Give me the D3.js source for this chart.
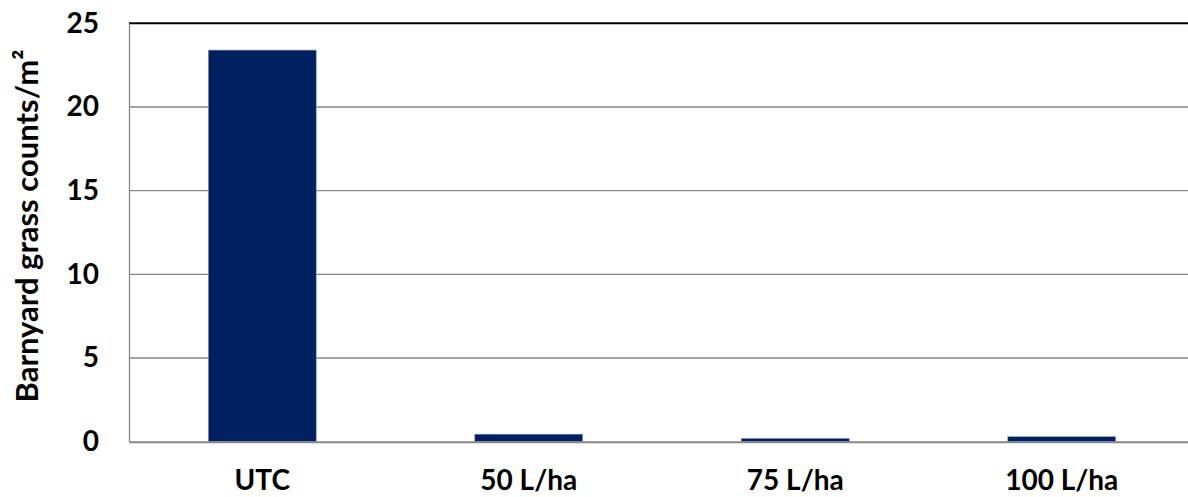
<!DOCTYPE html>
<html><head><meta charset="utf-8">
<script src="https://cdn.jsdelivr.net/npm/d3@7"></script>
<style>body{margin:0;background:#fff}svg{display:block}</style>
</head><body><div id="chart"></div>
<script>
const categories = ["UTC", "50 L/ha", "75 L/ha", "100 L/ha"];
const values = [23.4, 0.45, 0.2, 0.3];
const yTicks = [0, 5, 10, 15, 20, 25];
const yTitle = "Barnyard grass counts/m²";

const W = 1188, H = 497;
const m = {left: 129, top: 23.3, right: -7, bottom: 55.3};
const svg = d3.select("#chart").append("svg").attr("width", W).attr("height", H);
const font = "Lato, 'Open Sans', sans-serif";

const x = d3.scaleBand().domain(categories).range([m.left, W - m.right]).paddingInner(0.595).paddingOuter(0.2975);
const y = d3.scaleLinear().domain([0, 25]).range([H - m.bottom, m.top]);

// gridlines
svg.append("g").selectAll("line").data(yTicks.filter(d => d > 0 && d < 25)).join("line")
  .attr("x1", m.left).attr("x2", W - m.right)
  .attr("y1", d => y(d)).attr("y2", d => y(d))
  .attr("stroke", "#868686").attr("stroke-width", 1.3);
// top border
svg.append("line").attr("x1", m.left).attr("x2", W - m.right).attr("y1", y(25)).attr("y2", y(25))
  .attr("stroke", "#000").attr("stroke-width", 2);

// bars
svg.append("g").selectAll("rect").data(values).join("rect")
  .attr("x", (d, i) => x(categories[i]))
  .attr("width", x.bandwidth())
  .attr("y", d => y(d))
  .attr("height", d => y(0) - y(d))
  .attr("fill", "#002060").attr("stroke", "#8da0c8").attr("stroke-width", 0.6);

// y axis
const yAxis = svg.append("g").attr("transform", `translate(${m.left},0)`)
  .call(d3.axisLeft(y).tickValues(yTicks).tickSize(0).tickPadding(30));
yAxis.select(".domain").attr("stroke", "#868686").attr("stroke-width", 1.3);
yAxis.selectAll("text").attr("font-family", font).attr("font-weight", "bold")
  .attr("font-size", 28).attr("fill", "#000");

// x axis
const xAxis = svg.append("g").attr("transform", `translate(0,${y(0)})`)
  .call(d3.axisBottom(x).tickSize(0).tickPadding(28));
xAxis.select(".domain").attr("stroke", "#868686").attr("stroke-width", 2);
xAxis.selectAll("text").attr("font-family", font).attr("font-weight", "bold")
  .attr("font-size", 28).attr("fill", "#000");

// y title
svg.append("text").attr("transform", `translate(38,226) rotate(-90)`)
  .attr("text-anchor", "middle").attr("font-family", font).attr("font-weight", "bold")
  .attr("font-size", 31).attr("fill", "#000").text(yTitle);
</script></body></html>
